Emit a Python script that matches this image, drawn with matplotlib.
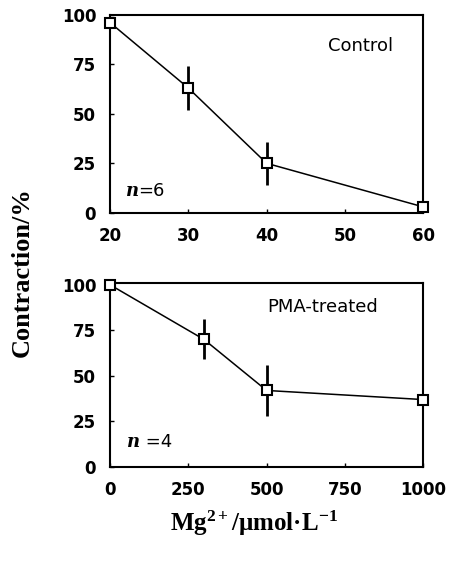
import matplotlib
matplotlib.use("Agg")
import matplotlib.pyplot as plt

plt.rcParams["mathtext.fontset"] = "custom"
plt.rcParams["mathtext.rm"] = "Liberation Serif:bold"
plt.rcParams["mathtext.it"] = "Liberation Serif:bold"
plt.rcParams["mathtext.bf"] = "Liberation Serif:bold"

# Data
ctrl_x = [20, 30, 40, 60]
ctrl_y = [96, 63, 25, 3]
ctrl_err = [0, 11, 11, 0]
ctrl_xticks = [20, 30, 40, 50, 60]

pma_x = [0, 300, 500, 1000]
pma_y = [100, 70, 42, 37]
pma_err = [0, 11, 14, 0]
pma_xticks = [0, 250, 500, 750, 1000]

yticks = [0, 25, 50, 75, 100]

fig = plt.figure(figsize=(4.53, 5.66), dpi=100)
ax1 = fig.add_axes([0.243, 0.624, 0.691, 0.350])
ax2 = fig.add_axes([0.243, 0.175, 0.691, 0.325])

def style(ax, xt, xlim, ylim):
    ax.set_xlim(*xlim)
    ax.set_ylim(*ylim)
    ax.set_xticks(xt)
    ax.set_yticks(yticks)
    ax.tick_params(direction="in", length=3, width=1, labelsize=12)
    ax.tick_params(axis="x", pad=10)
    ax.tick_params(axis="y", pad=10)
    for lab in ax.get_xticklabels() + ax.get_yticklabels():
        lab.set_family("DejaVu Sans")
        lab.set_fontweight("bold")
    for s in ax.spines.values():
        s.set_linewidth(1.5)

def draw(ax, x, y, e):
    ax.errorbar(x, y, yerr=e, fmt="none", ecolor="black", elinewidth=2, capsize=0, zorder=2)
    ax.plot(x, y, color="black", lw=1.1, marker="s", markersize=7.5,
            markerfacecolor="white", markeredgecolor="black", markeredgewidth=1.5,
            zorder=3, clip_on=False)

draw(ax1, ctrl_x, ctrl_y, ctrl_err)
style(ax1, ctrl_xticks, (20, 60), (0, 100))
draw(ax2, pma_x, pma_y, pma_err)
style(ax2, pma_xticks, (0, 1000), (0, 101))

ax1.text(0.80, 0.84, "Control", transform=ax1.transAxes, ha="center", va="center",
         fontsize=13, family="DejaVu Sans")
ax2.text(0.68, 0.87, "PMA-treated", transform=ax2.transAxes, ha="center", va="center",
         fontsize=13, family="DejaVu Sans")

for ax, fx, fy, num in [(ax1, 0.05, 0.11, "=6"), (ax2, 0.055, 0.135, " =4")]:
    ax.text(fx, fy, "n", transform=ax.transAxes, ha="left", va="center",
            fontsize=13, family="DejaVu Serif", style="italic", weight="bold")
    ax.annotate(num, xy=(fx, fy), xycoords=ax.transAxes, xytext=(9, 0),
                textcoords="offset points", ha="left", va="center",
                fontsize=13, family="DejaVu Sans")

fig.text(0.05, 0.52, "Contraction/%", rotation=90, ha="center", va="center",
         fontsize=19, family="Liberation Serif", weight="bold")
fig.text(0.56, 0.075, "Mg$^{2+}$/μmol·L$^{-1}$", ha="center", va="center",
         fontsize=18, family="Liberation Serif", weight="bold")

fig.savefig("out.png", dpi=100)
